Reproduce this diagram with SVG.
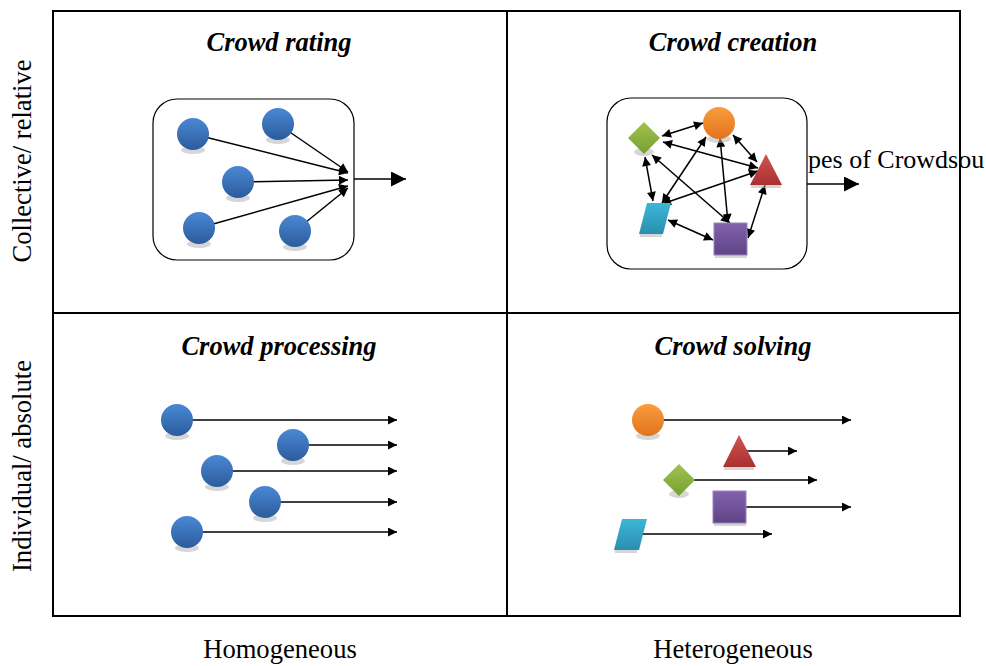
<svg xmlns="http://www.w3.org/2000/svg" width="986" height="666" viewBox="0 0 986 666">
<style>
.ax{font-family:"Liberation Serif","Times New Roman",serif;font-size:26.6px;fill:#000}
.ti{font-family:"Liberation Serif","Times New Roman",serif;font-size:26.5px;font-weight:bold;font-style:italic;fill:#000;text-anchor:middle}
.frame{fill:none;stroke:#000;stroke-width:2}
.box{fill:#fff;stroke:#000;stroke-width:1.2}
.ln{stroke:#000;stroke-width:1.5;fill:none}
.sh{fill:#b5b5b5;opacity:.55}
</style>
<defs>
<marker id="ah" viewBox="0 0 10 10" refX="10" refY="5" markerWidth="11" markerHeight="9" markerUnits="userSpaceOnUse" orient="auto-start-reverse"><path d="M0,0 L10,5 L0,10 z" fill="#000"/></marker>
<marker id="big" viewBox="0 0 10 10" refX="10" refY="5" markerWidth="17" markerHeight="15" markerUnits="userSpaceOnUse" orient="auto"><path d="M0,0 L10,5 L0,10 z" fill="#000"/></marker>
<linearGradient id="gB" x1="0" y1="0" x2="0" y2="1"><stop offset="0" stop-color="#4A88D4"/><stop offset="1" stop-color="#2B5C9C"/></linearGradient>
<linearGradient id="gO" x1="0" y1="0" x2="0" y2="1"><stop offset="0" stop-color="#FA9C3C"/><stop offset="1" stop-color="#E0741E"/></linearGradient>
<linearGradient id="gG" x1="0" y1="0" x2="0" y2="1"><stop offset="0" stop-color="#A2C252"/><stop offset="1" stop-color="#76A030"/></linearGradient>
<linearGradient id="gR" x1="0" y1="0" x2="0" y2="1"><stop offset="0" stop-color="#D05550"/><stop offset="1" stop-color="#A83030"/></linearGradient>
<linearGradient id="gC" x1="0" y1="0" x2="0" y2="1"><stop offset="0" stop-color="#3DB6D8"/><stop offset="1" stop-color="#2A8EAE"/></linearGradient>
<linearGradient id="gP" x1="0" y1="0" x2="0" y2="1"><stop offset="0" stop-color="#8462AE"/><stop offset="1" stop-color="#5E4484"/></linearGradient>
</defs>

<g id="labels">
<text class="ti" x="279" y="51">Crowd rating</text>
<text class="ti" x="733" y="51">Crowd creation</text>
<text class="ti" x="279" y="355">Crowd processing</text>
<text class="ti" x="733" y="355">Crowd solving</text>
<text class="ax" text-anchor="middle" x="280" y="658">Homogeneous</text>
<text class="ax" text-anchor="middle" x="733" y="658">Heterogeneous</text>
<text class="ax" text-anchor="middle" transform="translate(31,161) rotate(-90)">Collective/ relative</text>
<text class="ax" text-anchor="middle" transform="translate(31,466) rotate(-90)">Individual/ absolute</text>
<text class="ax" x="808" y="168" style="font-size:26px">pes of Crowdsou</text>
</g>

<g id="frame">
<rect class="frame" x="53" y="11" width="907" height="605"/>
<line class="frame" x1="507" y1="11" x2="507" y2="616"/>
<line class="frame" x1="53" y1="313" x2="960" y2="313"/>
</g>

<g id="box-rating"><rect class="box" x="153" y="99" width="201" height="161" rx="24"/></g>
<g id="box-creation"><rect class="box" x="607" y="98" width="200" height="171" rx="24"/></g>

<g id="connectors">
<!-- crowd rating -->
<line class="ln" x1="193" y1="134" x2="348" y2="173" marker-end="url(#ah)"/>
<line class="ln" x1="278" y1="124" x2="348" y2="172" marker-end="url(#ah)"/>
<line class="ln" x1="238" y1="182" x2="348" y2="180" marker-end="url(#ah)"/>
<line class="ln" x1="199" y1="228" x2="348" y2="186" marker-end="url(#ah)"/>
<line class="ln" x1="295" y1="231" x2="348" y2="188" marker-end="url(#ah)"/>
<line class="ln" x1="354" y1="179" x2="406" y2="179" marker-end="url(#big)"/>
<!-- crowd creation -->
<line class="ln" x1="662" y1="136" x2="703" y2="123" marker-start="url(#ah)" marker-end="url(#ah)"/>
<line class="ln" x1="663" y1="142" x2="758" y2="168" marker-start="url(#ah)" marker-end="url(#ah)"/>
<line class="ln" x1="645" y1="157" x2="653" y2="201" marker-start="url(#ah)" marker-end="url(#ah)"/>
<line class="ln" x1="652" y1="155" x2="730" y2="223" marker-start="url(#ah)" marker-end="url(#ah)"/>
<line class="ln" x1="706" y1="137" x2="662" y2="203" marker-start="url(#ah)" marker-end="url(#ah)"/>
<line class="ln" x1="720" y1="138" x2="728" y2="223" marker-start="url(#ah)" marker-end="url(#ah)"/>
<line class="ln" x1="733" y1="135" x2="757" y2="162" marker-start="url(#ah)" marker-end="url(#ah)"/>
<line class="ln" x1="758" y1="171" x2="662" y2="204" marker-start="url(#ah)" marker-end="url(#ah)"/>
<line class="ln" x1="765" y1="185" x2="748" y2="238" marker-start="url(#ah)" marker-end="url(#ah)"/>
<line class="ln" x1="668" y1="220" x2="713" y2="240" marker-start="url(#ah)" marker-end="url(#ah)"/>
<line class="ln" x1="807" y1="184" x2="859" y2="184" marker-end="url(#big)"/>
<!-- crowd processing -->
<line class="ln" x1="177" y1="420" x2="397" y2="420" marker-end="url(#ah)"/>
<line class="ln" x1="293" y1="445" x2="397" y2="445" marker-end="url(#ah)"/>
<line class="ln" x1="217" y1="471" x2="397" y2="471" marker-end="url(#ah)"/>
<line class="ln" x1="265" y1="502" x2="397" y2="502" marker-end="url(#ah)"/>
<line class="ln" x1="187" y1="532" x2="397" y2="532" marker-end="url(#ah)"/>
<!-- crowd solving -->
<line class="ln" x1="648" y1="420" x2="851" y2="420" marker-end="url(#ah)"/>
<line class="ln" x1="745" y1="451" x2="797" y2="451" marker-end="url(#ah)"/>
<line class="ln" x1="679" y1="480" x2="817" y2="480" marker-end="url(#ah)"/>
<line class="ln" x1="740" y1="507" x2="851" y2="507" marker-end="url(#ah)"/>
<line class="ln" x1="640" y1="534" x2="772" y2="534" marker-end="url(#ah)"/>
</g>

<!-- crowd rating nodes -->
<g id="r1"><ellipse class="sh" cx="193" cy="150" rx="12" ry="4"/><circle cx="193" cy="134" r="16" fill="url(#gB)"/></g>
<g id="r2"><ellipse class="sh" cx="278" cy="140" rx="12" ry="4"/><circle cx="278" cy="124" r="16" fill="url(#gB)"/></g>
<g id="r3"><ellipse class="sh" cx="238" cy="198" rx="12" ry="4"/><circle cx="238" cy="182" r="16" fill="url(#gB)"/></g>
<g id="r4"><ellipse class="sh" cx="199" cy="244" rx="12" ry="4"/><circle cx="199" cy="228" r="16" fill="url(#gB)"/></g>
<g id="r5"><ellipse class="sh" cx="295" cy="247" rx="12" ry="4"/><circle cx="295" cy="231" r="16" fill="url(#gB)"/></g>

<!-- crowd creation nodes -->
<g id="c-orange"><ellipse class="sh" cx="719" cy="139" rx="12" ry="4"/><circle cx="719" cy="123" r="16" fill="url(#gO)"/></g>
<g id="c-green"><ellipse class="sh" cx="644" cy="152" rx="10" ry="4"/><polygon points="644,122 660,138 644,154 628,138" fill="url(#gG)"/></g>
<g id="c-red"><rect class="sh" x="751" y="184" width="30" height="4"/><polygon points="766,154 782,185 750,185" fill="url(#gR)"/></g>
<g id="c-cyan"><rect class="sh" x="640" y="233" width="22" height="4"/><polygon points="647,203 671,203 663,234 639,234" fill="url(#gC)"/></g>
<g id="c-purple"><rect class="sh" x="715" y="254" width="32" height="4"/><rect x="714" y="223" width="33" height="32" fill="url(#gP)" stroke="#9A82C0" stroke-width="1"/></g>

<!-- crowd processing nodes -->
<g id="p1"><ellipse class="sh" cx="177" cy="436" rx="12" ry="4"/><circle cx="177" cy="420" r="16" fill="url(#gB)"/></g>
<g id="p2"><ellipse class="sh" cx="293" cy="461" rx="12" ry="4"/><circle cx="293" cy="445" r="16" fill="url(#gB)"/></g>
<g id="p3"><ellipse class="sh" cx="217" cy="487" rx="12" ry="4"/><circle cx="217" cy="471" r="16" fill="url(#gB)"/></g>
<g id="p4"><ellipse class="sh" cx="265" cy="518" rx="12" ry="4"/><circle cx="265" cy="502" r="16" fill="url(#gB)"/></g>
<g id="p5"><ellipse class="sh" cx="187" cy="548" rx="12" ry="4"/><circle cx="187" cy="532" r="16" fill="url(#gB)"/></g>

<!-- crowd solving nodes -->
<g id="s-orange"><ellipse class="sh" cx="648" cy="436" rx="12" ry="4"/><circle cx="648" cy="420" r="16" fill="url(#gO)"/></g>
<g id="s-red"><rect class="sh" x="724" y="466" width="30" height="4"/><polygon points="739,435 756,467 723,467" fill="url(#gR)"/></g>
<g id="s-green"><ellipse class="sh" cx="679" cy="494" rx="10" ry="4"/><polygon points="679,464 695,480 679,496 663,480" fill="url(#gG)"/></g>
<g id="s-purple"><rect class="sh" x="714" y="522" width="32" height="4"/><rect x="713" y="491" width="33" height="32" fill="url(#gP)" stroke="#9A82C0" stroke-width="1"/></g>
<g id="s-cyan"><rect class="sh" x="615" y="549" width="22" height="4"/><polygon points="622,519 647,519 639,550 614,550" fill="url(#gC)"/></g>
</svg>
